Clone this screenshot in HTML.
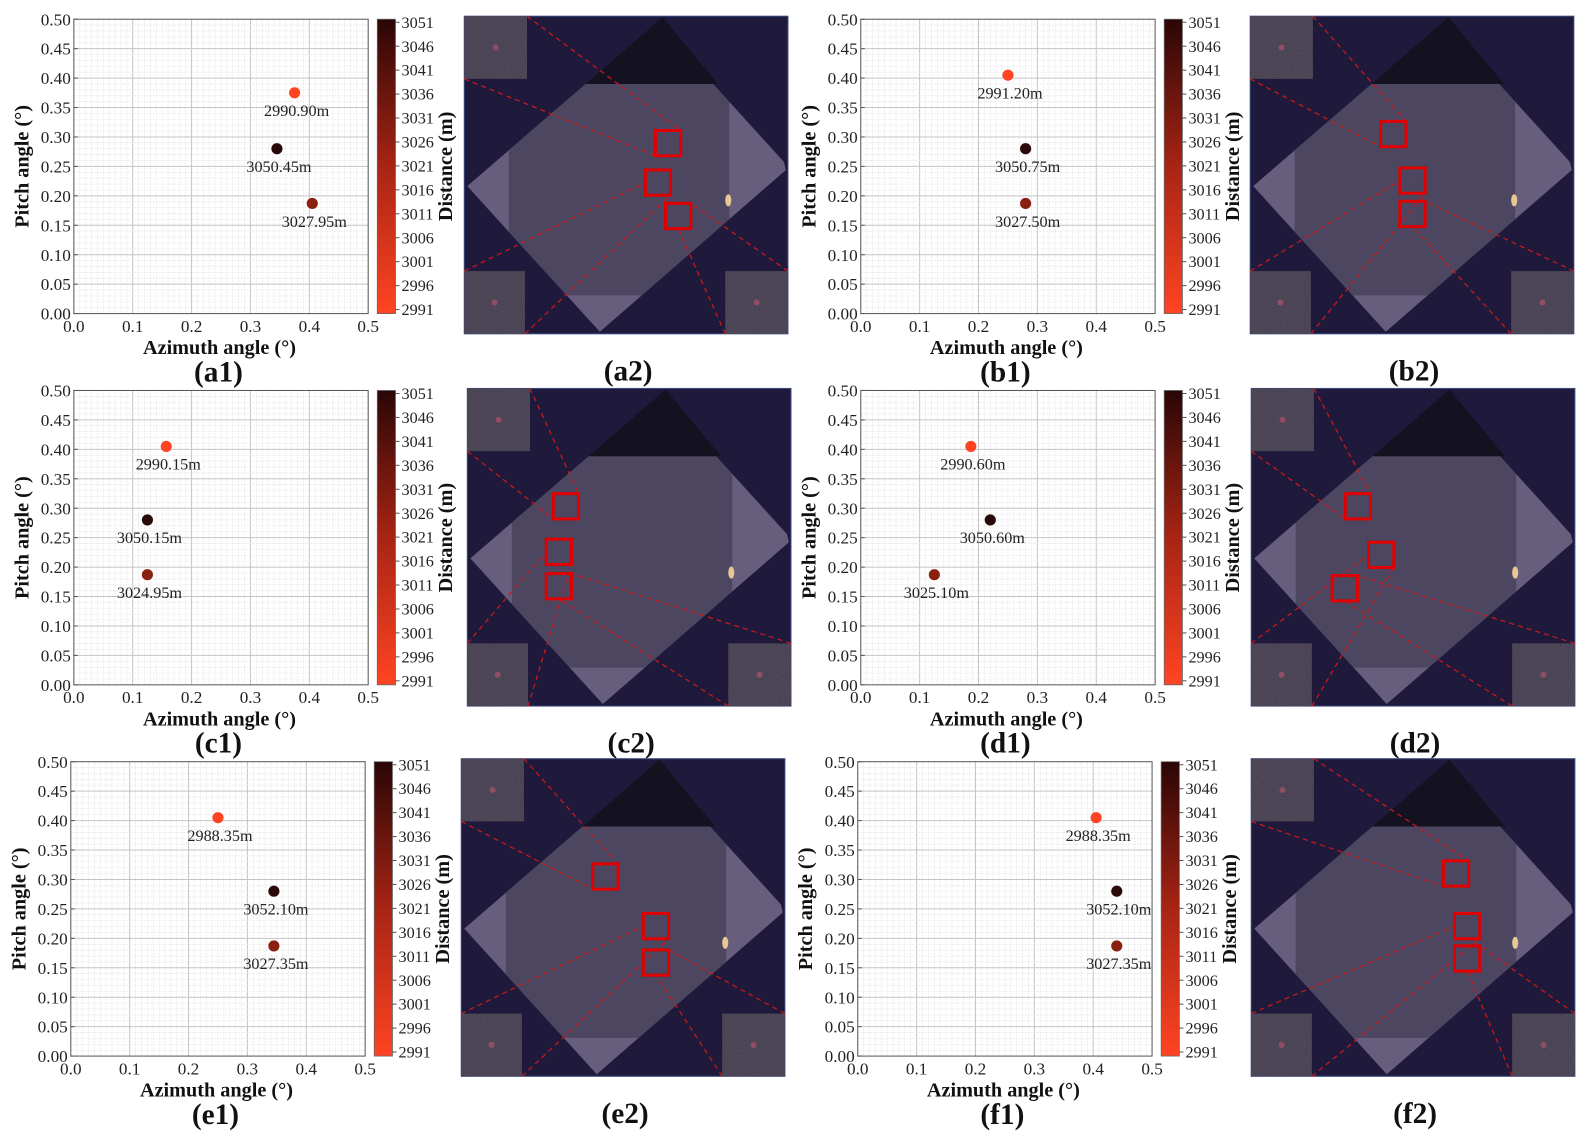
<!DOCTYPE html>
<html><head><meta charset="utf-8"><style>
html,body{margin:0;padding:0;background:#fff;}
svg{display:block;}
text{font-family:"Liberation Serif",serif;}
</style></head><body>
<svg id="s" xmlns="http://www.w3.org/2000/svg" width="1586" height="1136" viewBox="0 0 1568 1123" preserveAspectRatio="none">
<defs>
<linearGradient id="cb" x1="0" y1="1" x2="0" y2="0">
<stop offset="0" stop-color="#ff4422"/><stop offset="0.5" stop-color="#a82414"/><stop offset="1" stop-color="#2a0606"/>
</linearGradient>
<filter id="nz"><feTurbulence type="fractalNoise" baseFrequency="0.9" numOctaves="1" seed="3"/><feColorMatrix values="0 0 0 0 0.45 0 0 0 0 0.38 0 0 0 0 0.5 0 0 0 0.5 0"/><feComposite in2="SourceGraphic" operator="in"/></filter>
<clipPath id="oc"><polygon points="3,168 120,67 246,67 316,144 318,152 134,312"/></clipPath>
</defs>
</svg>
<script>
const S=document.getElementById('s');let h='';
const C1='#ff4422',C2='#2a0a08',C3='#8a2010';
const plots=[
 {x0:73,y0:19,lab:'(a1)',pts:[[0.375,0.375,'2990.90m',C1],[0.345,0.28,'3050.45m',C2],[0.405,0.187,'3027.95m',C3]]},
 {x0:851,y0:19,lab:'(b1)',pts:[[0.25,0.405,'2991.20m',C1],[0.28,0.28,'3050.75m',C2],[0.28,0.187,'3027.50m',C3]]},
 {x0:73,y0:386,lab:'(c1)',pts:[[0.157,0.405,'2990.15m',C1],[0.125,0.28,'3050.15m',C2],[0.125,0.187,'3024.95m',C3]]},
 {x0:851,y0:386,lab:'(d1)',pts:[[0.187,0.405,'2990.60m',C1],[0.22,0.28,'3050.60m',C2],[0.125,0.187,'3025.10m',C3]]},
 {x0:70,y0:753,lab:'(e1)',pts:[[0.25,0.405,'2988.35m',C1],[0.345,0.28,'3052.10m',C2],[0.345,0.187,'3027.35m',C3]]},
 {x0:848,y0:753,lab:'(f1)',pts:[[0.405,0.405,'2988.35m',C1],[0.44,0.28,'3052.10m',C2],[0.44,0.187,'3027.35m',C3]]}
];
const W=291,H=291;
plots.forEach(p=>{
 const {x0,y0}=p;
 h+=`<rect x="${x0}" y="${y0}" width="${W}" height="${H}" fill="#fff"/>`;
 for(let i=1;i<50;i++){const x=x0+W*i/50;h+=`<line x1="${x}" y1="${y0}" x2="${x}" y2="${y0+H}" stroke="${i%10?'#e6e6e6':'#c4c4c4'}" stroke-width="${i%10?0.7:1}" ${i%10?'stroke-dasharray="2,1"':''}/>`;}
 for(let i=1;i<50;i++){const y=y0+H*i/50;h+=`<line x1="${x0}" y1="${y}" x2="${x0+W}" y2="${y}" stroke="${i%5?'#e6e6e6':'#c4c4c4'}" stroke-width="${i%5?0.7:1}" ${i%5?'stroke-dasharray="2,1"':''}/>`;}
 h+=`<rect x="${x0}" y="${y0}" width="${W}" height="${H}" fill="none" stroke="#555" stroke-width="1"/>`;
 for(let i=0;i<=10;i++){const y=y0+H-H*i/10;h+=`<text x="${x0-3}" y="${y+6}" font-size="17" text-anchor="end" fill="#222">${(i*0.05).toFixed(2)}</text><line x1="${x0}" y1="${y}" x2="${x0+4}" y2="${y}" stroke="#555"/>`;}
 for(let i=0;i<=5;i++){const x=x0+W*i/5;h+=`<text x="${x}" y="${y0+H+18}" font-size="17" text-anchor="middle" fill="#222">${(i*0.1).toFixed(1)}</text>`;}
 h+=`<text x="${x0+144}" y="${y0+H+40}" font-size="20" font-weight="bold" text-anchor="middle" fill="#111">Azimuth angle (°)</text>`;
 h+=`<text transform="translate(${x0-45},${y0+H/2}) rotate(-90)" font-size="20" font-weight="bold" text-anchor="middle" fill="#111">Pitch angle (°)</text>`;
 h+=`<text x="${x0+143}" y="${y0+H+67}" font-size="29" font-weight="bold" text-anchor="middle" fill="#111">${p.lab}</text>`;
 const cx=x0+300;
 h+=`<rect x="${cx}" y="${y0}" width="18" height="${H}" fill="url(#cb)" stroke="#666" stroke-width="0.8"/>`;
 for(let i=0;i<13;i++){const y=y0+3+i*(H-7)/12;h+=`<line x1="${cx+18}" y1="${y}" x2="${cx+22}" y2="${y}" stroke="#555"/><text x="${cx+24}" y="${y+5.5}" font-size="16" fill="#222">${3051-5*i}</text>`;}
 h+=`<text transform="translate(${cx+74},${y0+H/2}) rotate(-90)" font-size="20" font-weight="bold" text-anchor="middle" fill="#111">Distance (m)</text>`;
 p.pts.forEach(q=>{const x=x0+W*q[0]/0.5,y=y0+H-H*q[1]/0.5;h+=`<circle cx="${x}" cy="${y}" r="5.5" fill="${q[3]}"/><text x="${x+2}" y="${y+23}" font-size="16" text-anchor="middle" fill="#222">${q[2]}</text>`;});
});
const imgs=[
 {x:459,y:16,lab:'(a2)',b:[[189,113],[179,152],[199,185]]},
 {x:1236,y:16,lab:'(b2)',b:[[129,104],[148,150],[148,183]]},
 {x:462,y:384,lab:'(c2)',b:[[85,104],[78,149],[78,183]]},
 {x:1237,y:384,lab:'(d2)',b:[[93,104],[116,152],[80,185]]},
 {x:456,y:750,lab:'(e2)',b:[[130,104],[180,153],[180,189]]},
 {x:1237,y:750,lab:'(f2)',b:[[190,101],[201,153],[201,185]]}
];
imgs.forEach(m=>{
 const w=320,hh=314;
 h+=`<g transform="translate(${m.x},${m.y})">`;
 h+=`<rect width="${w}" height="${hh}" fill="#1f1a3c" stroke="#3a4a80" stroke-width="1"/>`;
 h+=`<polygon points="3,168 120,67 246,67 316,144 318,152 134,312" fill="#675e7e"/>`;
 h+=`<rect x="44" y="67" width="218" height="209" fill="#4c4660" clip-path="url(#oc)"/>`;
 h+=`<polygon points="196,1 120,67 251,67" fill="#141220"/>`;
 h+=`<ellipse cx="261" cy="182" rx="3" ry="6" fill="#e8c890"/>`;
 const ins=[[0,0,62,62],[0,252,60,62],[258,252,62,62]];
 ins.forEach(r=>{h+=`<rect x="${r[0]}" y="${r[1]}" width="${r[2]}" height="${r[3]}" fill="#3e3848"/><rect x="${r[0]}" y="${r[1]}" width="${r[2]}" height="${r[3]}" fill="#fff" filter="url(#nz)" opacity="0.5"/><circle cx="${r[0]+r[2]/2}" cy="${r[1]+r[3]/2}" r="3" fill="#a05068" opacity="0.8"/>`;});
 const B=m.b,s=25,d='stroke="#d01818" stroke-width="1.2" stroke-dasharray="5,4" fill="none"';
 h+=`<line x1="62" y1="0" x2="${B[0][0]+s}" y2="${B[0][1]}" ${d}/><line x1="0" y1="62" x2="${B[0][0]}" y2="${B[0][1]+s}" ${d}/>`;
 h+=`<line x1="0" y1="252" x2="${B[1][0]}" y2="${B[1][1]+s/2}" ${d}/><line x1="60" y1="314" x2="${B[1][0]+s}" y2="${B[1][1]+s}" ${d}/>`;
 h+=`<line x1="258" y1="314" x2="${B[2][0]+s/2}" y2="${B[2][1]+s}" ${d}/><line x1="320" y1="252" x2="${B[2][0]+s}" y2="${B[2][1]}" ${d}/>`;
 B.forEach(b=>{h+=`<rect x="${b[0]}" y="${b[1]}" width="${s}" height="${s}" fill="none" stroke="#e00000" stroke-width="3"/>`;});
 h+=`</g>`;
 h+=`<text x="${m.x+162}" y="${m.y+360}" font-size="29" font-weight="bold" text-anchor="middle" fill="#111">${m.lab}</text>`;
});
S.insertAdjacentHTML('beforeend',h);
</script>
</body></html>
